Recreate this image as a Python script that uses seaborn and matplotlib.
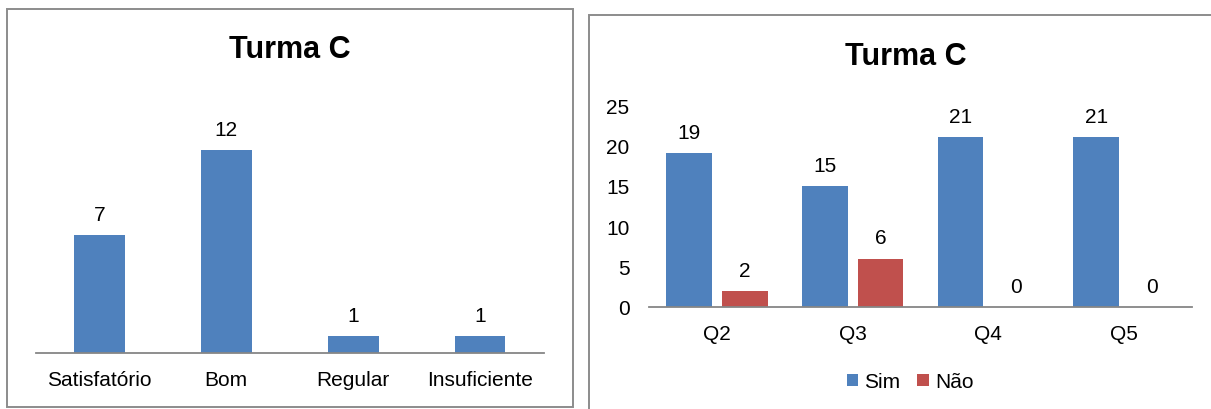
import matplotlib
matplotlib.use("Agg")
import matplotlib.pyplot as plt
from matplotlib.patches import Rectangle, Patch
import seaborn as sns
import pandas as pd

# Left chart: overall rating of the class
rating_labels = ["Satisfatório", "Bom", "Regular", "Insuficiente"]
rating_counts = [7, 12, 1, 1]

# Right chart: yes / no answers per question
questions = ["Q2", "Q3", "Q4", "Q5"]
sim_counts = [19, 15, 21, 21]
nao_counts = [2, 6, 0, 0]
answer_names = ["Sim", "Não"]

title_text = "Turma C"

BLUE = "#4F81BD"
RED = "#C0504D"
FRAME = "#8C8C8C"
AXIS = "#868686"

sns.set_style("white")
plt.rcParams["font.family"] = ["Liberation Sans", "DejaVu Sans"]
plt.rcParams["text.color"] = "black"
plt.rcParams["xtick.color"] = "black"
plt.rcParams["ytick.color"] = "black"

W, H = 1211, 410
fig = plt.figure(figsize=(W / 100, H / 100), dpi=100)


def px_axes(x0, x1, y_top, y_bottom):
    """Add an axes given pixel edges measured from the top-left corner."""
    return fig.add_axes([x0 / W, 1 - y_bottom / H, (x1 - x0) / W, (y_bottom - y_top) / H])


def px_frame(x0, y0, x1, y1):
    fig.patches.append(Rectangle((x0 / W, 1 - y1 / H), (x1 - x0) / W, (y1 - y0) / H,
                                 transform=fig.transFigure, fill=False,
                                 edgecolor=FRAME, linewidth=1.4, zorder=0))


def style_axes(ax):
    for side in ("left", "right", "top"):
        ax.spines[side].set_visible(False)
    ax.spines["bottom"].set_color(AXIS)
    ax.spines["bottom"].set_linewidth(1.3)
    ax.set_xlabel("")
    ax.set_ylabel("")
    ax.tick_params(axis="x", length=0, pad=12.5, labelsize=15, labelcolor="black")
    ax.tick_params(axis="y", length=0, pad=14, labelsize=15, labelcolor="black")
    ax.set_facecolor("none")


# ---- left panel ----
px_frame(7, 10, 573, 408)
ax1 = px_axes(36, 543.5, 117.4, 354)
df1 = pd.DataFrame({"categoria": rating_labels, "total": rating_counts})
sns.barplot(data=df1, x="categoria", y="total", color=BLUE, width=0.4,
            linewidth=0, saturation=1, ax=ax1)
ax1.set_ylim(0, 14)
ax1.set_yticks([])
style_axes(ax1)
for c in ax1.containers:
    ax1.bar_label(c, fmt="%d", padding=8, fontsize=15, color="black")
fig.text(290 / W, 1 - 50 / H, title_text, ha="center", va="center",
         fontsize=22, fontweight="bold", color="black")

# ---- right panel ----
px_frame(589, 16, 1260, 460)
ax2 = px_axes(649, 1192, 106, 308)
df2 = pd.DataFrame({
    "questao": questions * 2,
    "resposta": [answer_names[0]] * len(questions) + [answer_names[1]] * len(questions),
    "total": sim_counts + nao_counts,
})
sns.barplot(data=df2, x="questao", y="total", hue="resposta",
            palette={answer_names[0]: BLUE, answer_names[1]: RED},
            width=0.82, gap=0.18, linewidth=0, saturation=1, legend=False, ax=ax2)
ax2.set_ylim(0, 25)
ax2.set_yticks(range(0, 26, 5))
style_axes(ax2)
for c in ax2.containers:
    ax2.bar_label(c, fmt="%d", padding=8, fontsize=15, color="black")
fig.text(906 / W, 1 - 57 / H, title_text, ha="center", va="center",
         fontsize=22, fontweight="bold", color="black")

handles = [Patch(facecolor=BLUE, edgecolor="none"), Patch(facecolor=RED, edgecolor="none")]
fig.legend(handles, answer_names, loc="center", bbox_to_anchor=(910 / W, 1 - 383 / H),
           ncol=2, frameon=False, fontsize=15, handlelength=0.55, handleheight=0.55,
           handletextpad=0.3, columnspacing=0.8, borderpad=0, labelcolor="black")

fig.savefig("out.png", dpi=100, facecolor="white")
